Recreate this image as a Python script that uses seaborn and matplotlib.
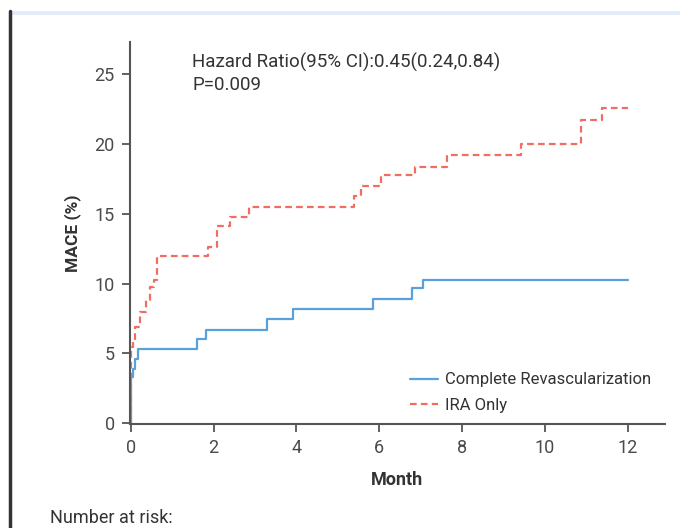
import matplotlib
matplotlib.use("Agg")
import matplotlib.pyplot as plt
import seaborn as sns
import pandas as pd
from matplotlib.patches import Rectangle
from matplotlib.lines import Line2D

# ---- data ----
groups = ["Complete Revascularization", "IRA Only"]
time_cr = [0, 0, 0.06, 0.11, 0.18, 1.61, 1.81, 3.28, 3.91, 5.86, 6.78, 7.05, 12.0]
mace_cr = [0, 3.3, 3.9, 4.6, 5.35, 6.0, 6.7, 7.45, 8.2, 8.9, 9.7, 10.25, 10.25]
time_ira = [0, 0, 0.05, 0.1, 0.22, 0.37, 0.47, 0.57, 0.62, 1.87, 2.08, 2.4, 2.86,
            5.38, 5.55, 6.05, 6.86, 7.63, 9.43, 10.86, 11.37, 12.0]
mace_ira = [0, 5.45, 5.95, 6.9, 7.95, 8.8, 9.75, 10.25, 11.95, 12.6, 14.1, 14.8, 15.5,
            16.3, 17.0, 17.8, 18.35, 19.2, 20.0, 21.7, 22.6, 22.6]
x_ticks = [0, 2, 4, 6, 8, 10, 12]
y_ticks = [0, 5, 10, 15, 20, 25]
hr_text = "Hazard Ratio(95% CI):0.45(0.24,0.84)"
p_text = "P=0.009"

df = pd.concat([
    pd.DataFrame({"Month": time_cr, "MACE": mace_cr, "Group": groups[0]}),
    pd.DataFrame({"Month": time_ira, "MACE": mace_ira, "Group": groups[1]}),
], ignore_index=True)

sns.set_theme(style="white")
plt.rcParams["font.family"] = ["Roboto", "DejaVu Sans"]

fig = plt.figure(figsize=(6.8, 5.28), dpi=100)
ax = fig.add_axes([130/680, 1-424/528, 535/680, 382/528])

blue = "#5AA0DC"
red = "#F06E5F"
sns.lineplot(data=df, x="Month", y="MACE", hue="Group", style="Group",
             palette={groups[0]: blue, groups[1]: red},
             dashes={groups[0]: "", groups[1]: (3.0, 1.9)},
             estimator=None, sort=False, drawstyle="steps-post",
             linewidth=1.6, ax=ax)

ax.set_xlim(-0.02, 12.9)
ax.set_ylim(-0.05, 27.3)
ax.set_xticks(x_ticks)
ax.set_yticks(y_ticks)
ax.tick_params(axis="both", which="major", direction="out", length=6, width=1.3,
               color="#555555", labelsize=13, labelcolor="#4a4a4a", left=True, bottom=True,
               pad=5)
for s in ["top", "right"]:
    ax.spines[s].set_visible(False)
for s in ["left", "bottom"]:
    ax.spines[s].set_color("#555555")
    ax.spines[s].set_linewidth(1.5)

ax.set_xlabel("Month", fontsize=13, fontweight="bold", color="#333333", labelpad=10)
ax.set_ylabel("MACE (%)", fontsize=12.5, fontweight="bold", color="#333333", labelpad=10)

leg = ax.legend(loc="upper left", bbox_to_anchor=(0.523, 0.135), frameon=False,
                fontsize=12, handlelength=1.7, handletextpad=0.4, labelspacing=0.62,
                borderpad=0, borderaxespad=0, labelcolor="#333333")

fig.text(192/680, 1-53/528, hr_text, fontsize=13.5, color="#333333", va="top", ha="left")
fig.text(192/680, 1-76/528, p_text, fontsize=13.5, color="#333333", va="top", ha="left")
fig.text(50/680, 1-518/528, "Number at risk:", fontsize=13, color="#333333", va="center", ha="left")

# decorative frame elements
fig.patches.append(Rectangle((11/680, 1-15/528), 1, 4/528, transform=fig.transFigure,
                             facecolor="#E3ECF8", edgecolor="none"))
fig.lines.append(Line2D([10/680, 10/680], [1-11/528, 0], transform=fig.transFigure,
                        color="#333333", linewidth=2.5))

fig.savefig("out.png", dpi=100)
